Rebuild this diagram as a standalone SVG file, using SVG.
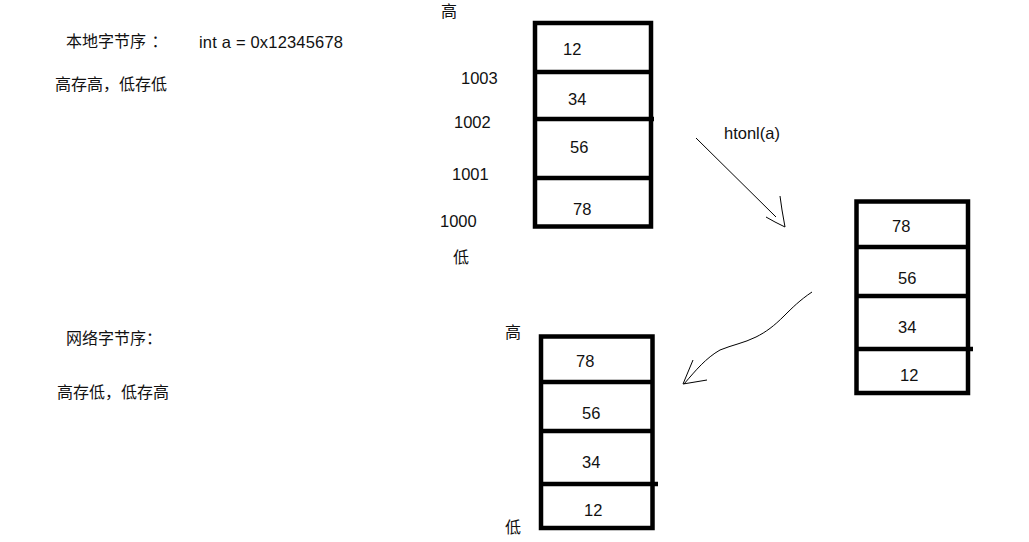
<svg xmlns="http://www.w3.org/2000/svg" width="1029" height="542" viewBox="0 0 1029 542">
<style>
.t{font-family:"Liberation Sans","Noto Sans CJK SC",sans-serif;font-size:16.5px;fill:#111}
.c{font-family:"Noto Sans CJK SC","Liberation Sans",sans-serif;font-size:16px;fill:#111}
.box{fill:none;stroke:#000;stroke-width:4.5}
.div{stroke:#000;stroke-width:4.5}
.pen{fill:none;stroke:#000;stroke-width:1}
</style>
<rect width="1029" height="542" fill="#fff"/>
<g id="labels">
<text class="c" x="66" y="47">本地字节序 <tspan dx="2">：</tspan></text>
<text class="t" x="199" y="48" textLength="144">int a = 0x12345678</text>
<text class="c" x="55" y="90">高存高，低存低</text>
<text class="c" x="66" y="344">网络字节序：</text>
<text class="c" x="57" y="398">高存低，低存高</text>
</g>
<g id="host-memory">
<rect class="box" x="535" y="23" width="116" height="203.5"/>
<line class="div" x1="535" y1="72" x2="651" y2="72"/>
<line class="div" x1="535" y1="119" x2="654" y2="119"/>
<line class="div" x1="535" y1="178" x2="651" y2="178"/>
<text class="t" x="563" y="55">12</text>
<text class="t" x="568" y="105">34</text>
<text class="t" x="570" y="153">56</text>
<text class="t" x="573" y="215">78</text>
<text class="c" x="441" y="17">高</text>
<text class="t" x="461" y="84">1003</text>
<text class="t" x="454" y="128">1002</text>
<text class="t" x="452" y="180">1001</text>
<text class="t" x="440" y="227">1000</text>
<text class="c" x="453" y="263">低</text>
</g>
<g id="net-memory">
<rect class="box" x="856.5" y="201.5" width="111.5" height="191.5"/>
<line class="div" x1="856.5" y1="247" x2="968" y2="247"/>
<line class="div" x1="856.5" y1="296" x2="968" y2="296"/>
<line class="div" x1="856.5" y1="349" x2="973" y2="349"/>
<text class="t" x="892" y="232">78</text>
<text class="t" x="898" y="284">56</text>
<text class="t" x="898" y="333">34</text>
<text class="t" x="900" y="381">12</text>
</g>
<g id="net-memory-2">
<rect class="box" x="541" y="336.5" width="111.5" height="191.5"/>
<line class="div" x1="541" y1="382" x2="652.5" y2="382"/>
<line class="div" x1="541" y1="431" x2="652.5" y2="431"/>
<line class="div" x1="541" y1="484" x2="658" y2="484"/>
<text class="t" x="576" y="367">78</text>
<text class="t" x="582" y="419">56</text>
<text class="t" x="582" y="468">34</text>
<text class="t" x="584" y="516">12</text>
<text class="c" x="505" y="338">高</text>
<text class="c" x="505" y="533">低</text>
</g>
<g id="connectors">
<text class="t" x="724" y="139">htonl(a)</text>
<path class="pen" d="M696 138 L776 217"/>
<path class="pen" d="M780 196 L782 210 L785 227 L775 222 L766 217"/>
<path class="pen" d="M812 292 C800 300 792 308 784 316 C774 326 766 332 756 337 C744 343 732 345 720 350 C706 358 696 370 684 384"/>
<path class="pen" d="M693 360 L688 372 L683 384 L695 382 L707 380"/>
</g>
</svg>
